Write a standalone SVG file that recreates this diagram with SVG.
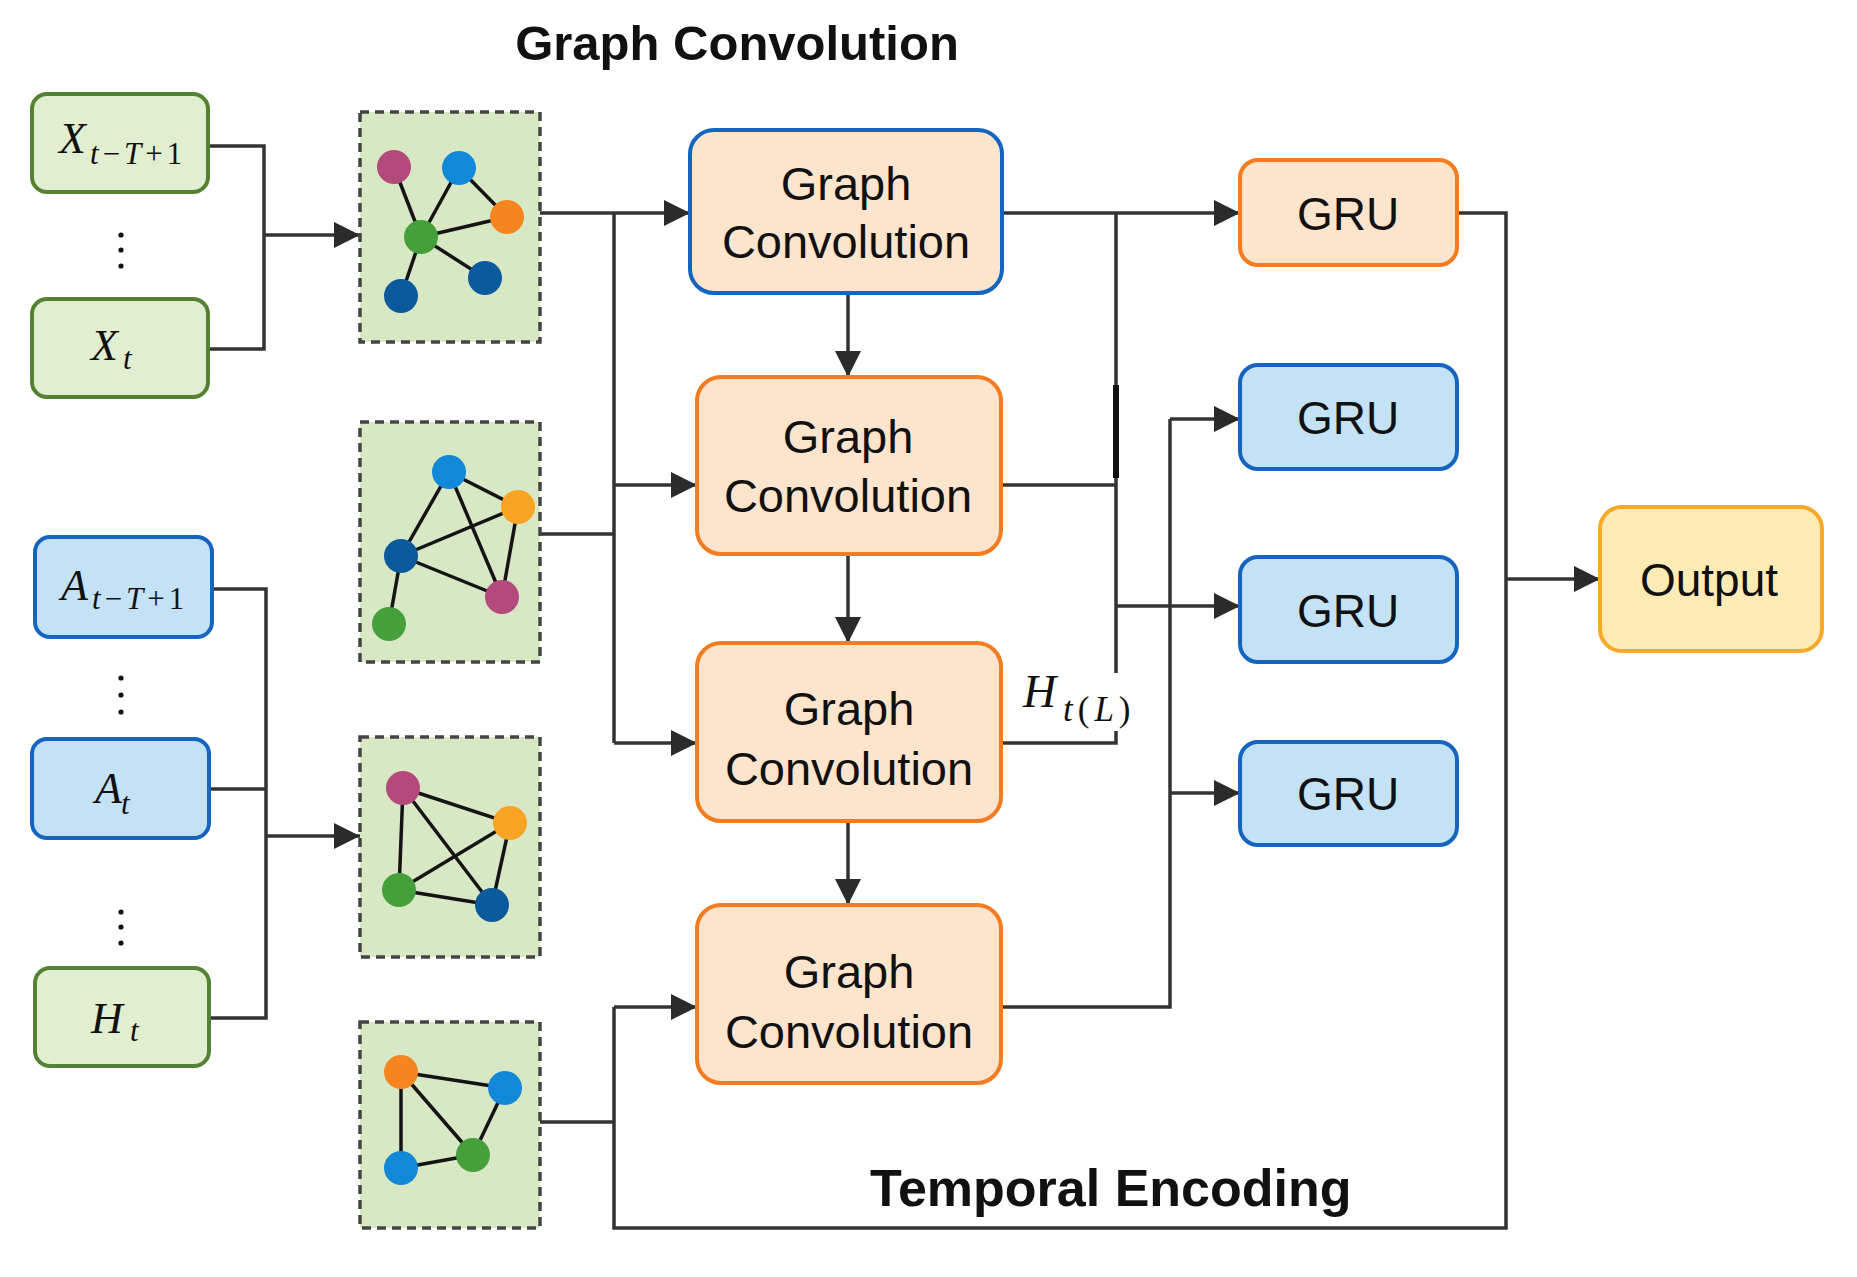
<svg xmlns="http://www.w3.org/2000/svg" width="1857" height="1277" viewBox="0 0 1857 1277">
<defs>
<marker id="arr" markerUnits="userSpaceOnUse" markerWidth="32" markerHeight="26" viewBox="0 0 10 10" refX="10" refY="5" orient="auto">
<path d="M0,0 L10,5 L0,10 z" fill="#2b2b2b"/>
</marker>
<style>
.ln{fill:none;stroke:#333;stroke-width:3.5}
.thick{fill:none;stroke:#111;stroke-width:6}
.green{fill:#e1eecf;stroke:#548235;stroke-width:4}
.blue{fill:#c4e2f6;stroke:#1565c0;stroke-width:4}
.peach{fill:#fde4cd;stroke:#f47c20;stroke-width:4}
.peachb{fill:#fde4cd;stroke:#1565c0;stroke-width:4}
.out{fill:#fdebb6;stroke:#f7a928;stroke-width:4}
.gbox{fill:#d8e8c5;stroke:#444;stroke-width:3.5;stroke-dasharray:9 6}
.ed{stroke:#141414;stroke-width:3.5}
.sans{font-family:"Liberation Sans",Arial,sans-serif;fill:#111}
.bold{font-family:"Liberation Sans",Arial,sans-serif;font-weight:bold;fill:#111}
.math{font-family:"Liberation Serif","Times New Roman",serif;font-style:italic;fill:#111}
.up{font-style:normal}
.mag{fill:#b4497b}.lb{fill:#1188d8}.or{fill:#f5861f}.or2{fill:#f9a424}.gr{fill:#45a03b}.db{fill:#0c5a9e}
.dot{fill:#111}
</style>
</defs>
<rect width="1857" height="1277" fill="#ffffff"/>

<text class="bold" x="737" y="60" font-size="49" text-anchor="middle">Graph Convolution</text>
<text class="bold" x="870" y="1206" font-size="52">Temporal Encoding</text>

<g id="connectors">
<path class="ln" d="M208,146 H264 V349 H208"/>
<path class="ln" d="M264,235 H360" marker-end="url(#arr)"/>
<path class="ln" d="M212,589 H266 V1018 H209 M209,789 H266"/>
<path class="ln" d="M266,836 H360" marker-end="url(#arr)"/>
<path class="ln" d="M540,213 H690" marker-end="url(#arr)"/>
<path class="ln" d="M614,213 V743"/>
<path class="ln" d="M614,485 H697" marker-end="url(#arr)"/>
<path class="ln" d="M540,534 H614"/>
<path class="ln" d="M614,743 H697" marker-end="url(#arr)"/>
<path class="ln" d="M540,1122 H614"/>
<path class="ln" d="M614,1007 H697" marker-end="url(#arr)"/>
<path class="ln" d="M614,1007 V1228 H1506 V213 H1457"/>
<path class="ln" d="M848,293 V377" marker-end="url(#arr)"/>
<path class="ln" d="M848,554 V643" marker-end="url(#arr)"/>
<path class="ln" d="M848,821 V905" marker-end="url(#arr)"/>
<path class="ln" d="M1002,213 H1240" marker-end="url(#arr)"/>
<path class="ln" d="M1116,213 V673 M1116,731 V743 H1001"/>
<path class="thick" d="M1116,385 V478"/>
<path class="ln" d="M1001,485 H1116"/>
<path class="ln" d="M1116,606 H1240" marker-end="url(#arr)"/>
<path class="ln" d="M1170,419 H1240" marker-end="url(#arr)"/>
<path class="ln" d="M1170,419 V1007 H1001"/>
<path class="ln" d="M1170,793 H1240" marker-end="url(#arr)"/>
<path class="ln" d="M1506,579 H1600" marker-end="url(#arr)"/>
</g>

<g id="label-H">
<text class="math" x="1023" y="707" font-size="46">H</text>
<text class="math" x="1063" y="721" font-size="35" letter-spacing="5">t<tspan class="up">(</tspan>L<tspan class="up">)</tspan></text>
</g>

<g id="x-first">
<rect class="green" x="32" y="94" width="176" height="98" rx="15"/>
<text class="math" x="59" y="153" font-size="44">X</text>
<text class="math" x="90" y="164" font-size="31" letter-spacing="4">t<tspan class="up">−</tspan>T<tspan class="up">+1</tspan></text>
</g>
<g id="x-dots"><circle class="dot" cx="121" cy="235" r="2.6"/><circle class="dot" cx="121" cy="250" r="2.6"/><circle class="dot" cx="121" cy="266" r="2.6"/></g>
<g id="x-last">
<rect class="green" x="32" y="299" width="176" height="98" rx="15"/>
<text class="math" x="91" y="360" font-size="44">X</text>
<text class="math" x="123" y="369" font-size="31">t</text>
</g>

<g id="a-first">
<rect class="blue" x="35" y="537" width="177" height="100" rx="15"/>
<text class="math" x="61" y="600" font-size="44">A</text>
<text class="math" x="92" y="609" font-size="31" letter-spacing="4">t<tspan class="up">−</tspan>T<tspan class="up">+1</tspan></text>
</g>
<g id="a-dots"><circle class="dot" cx="121" cy="678" r="2.6"/><circle class="dot" cx="121" cy="695" r="2.6"/><circle class="dot" cx="121" cy="712" r="2.6"/></g>
<g id="a-last">
<rect class="blue" x="32" y="739" width="177" height="99" rx="15"/>
<text class="math" x="95" y="803" font-size="44">A</text>
<text class="math" x="121" y="814" font-size="31">t</text>
</g>
<g id="h-dots"><circle class="dot" cx="121" cy="912" r="2.6"/><circle class="dot" cx="121" cy="927" r="2.6"/><circle class="dot" cx="121" cy="943" r="2.6"/></g>
<g id="h-last">
<rect class="green" x="35" y="968" width="174" height="98" rx="15"/>
<text class="math" x="91" y="1033" font-size="44">H</text>
<text class="math" x="130" y="1041" font-size="31">t</text>
</g>

<g id="graph1">
<rect class="gbox" x="360" y="112" width="180" height="230"/>
<line class="ed" x1="394" y1="167" x2="421" y2="237"/>
<line class="ed" x1="459" y1="168" x2="421" y2="237"/>
<line class="ed" x1="459" y1="168" x2="507" y2="217"/>
<line class="ed" x1="507" y1="217" x2="421" y2="237"/>
<line class="ed" x1="421" y1="237" x2="401" y2="296"/>
<line class="ed" x1="421" y1="237" x2="485" y2="278"/>
<circle class="mag" cx="394" cy="167" r="17"/>
<circle class="lb" cx="459" cy="168" r="17"/>
<circle class="or" cx="507" cy="217" r="17"/>
<circle class="gr" cx="421" cy="237" r="17"/>
<circle class="db" cx="401" cy="296" r="17"/>
<circle class="db" cx="485" cy="278" r="17"/>
</g>

<g id="graph2">
<rect class="gbox" x="360" y="422" width="180" height="240"/>
<line class="ed" x1="449" y1="472" x2="401" y2="556"/>
<line class="ed" x1="449" y1="472" x2="518" y2="507"/>
<line class="ed" x1="449" y1="472" x2="502" y2="597"/>
<line class="ed" x1="518" y1="507" x2="401" y2="556"/>
<line class="ed" x1="518" y1="507" x2="502" y2="597"/>
<line class="ed" x1="401" y1="556" x2="502" y2="597"/>
<line class="ed" x1="401" y1="556" x2="389" y2="624"/>
<circle class="lb" cx="449" cy="472" r="17"/>
<circle class="or2" cx="518" cy="507" r="17"/>
<circle class="db" cx="401" cy="556" r="17"/>
<circle class="mag" cx="502" cy="597" r="17"/>
<circle class="gr" cx="389" cy="624" r="17"/>
</g>

<g id="graph3">
<rect class="gbox" x="360" y="737" width="180" height="220"/>
<line class="ed" x1="403" y1="788" x2="510" y2="823"/>
<line class="ed" x1="403" y1="788" x2="399" y2="890"/>
<line class="ed" x1="403" y1="788" x2="492" y2="905"/>
<line class="ed" x1="510" y1="823" x2="399" y2="890"/>
<line class="ed" x1="510" y1="823" x2="492" y2="905"/>
<line class="ed" x1="399" y1="890" x2="492" y2="905"/>
<circle class="mag" cx="403" cy="788" r="17"/>
<circle class="or2" cx="510" cy="823" r="17"/>
<circle class="gr" cx="399" cy="890" r="17"/>
<circle class="db" cx="492" cy="905" r="17"/>
</g>

<g id="graph4">
<rect class="gbox" x="360" y="1022" width="180" height="206"/>
<line class="ed" x1="401" y1="1072" x2="505" y2="1088"/>
<line class="ed" x1="401" y1="1072" x2="401" y2="1168"/>
<line class="ed" x1="401" y1="1072" x2="473" y2="1155"/>
<line class="ed" x1="505" y1="1088" x2="473" y2="1155"/>
<line class="ed" x1="401" y1="1168" x2="473" y2="1155"/>
<circle class="or" cx="401" cy="1072" r="17"/>
<circle class="lb" cx="505" cy="1088" r="17"/>
<circle class="lb" cx="401" cy="1168" r="17"/>
<circle class="gr" cx="473" cy="1155" r="17"/>
</g>

<g id="gc1">
<rect class="peachb" x="690" y="130" width="312" height="163" rx="24"/>
<text class="sans" x="846" y="200" font-size="47" text-anchor="middle">Graph</text>
<text class="sans" x="846" y="258" font-size="47" text-anchor="middle">Convolution</text>
</g>
<g id="gc2">
<rect class="peach" x="697" y="377" width="304" height="177" rx="24"/>
<text class="sans" x="848" y="453" font-size="47" text-anchor="middle">Graph</text>
<text class="sans" x="848" y="512" font-size="47" text-anchor="middle">Convolution</text>
</g>
<g id="gc3">
<rect class="peach" x="697" y="643" width="304" height="178" rx="24"/>
<text class="sans" x="849" y="725" font-size="47" text-anchor="middle">Graph</text>
<text class="sans" x="849" y="785" font-size="47" text-anchor="middle">Convolution</text>
</g>
<g id="gc4">
<rect class="peach" x="697" y="905" width="304" height="178" rx="24"/>
<text class="sans" x="849" y="988" font-size="47" text-anchor="middle">Graph</text>
<text class="sans" x="849" y="1048" font-size="47" text-anchor="middle">Convolution</text>
</g>

<g id="gru1">
<rect class="peach" x="1240" y="160" width="217" height="105" rx="18"/>
<text class="sans" x="1348" y="230" font-size="46" text-anchor="middle">GRU</text>
</g>
<g id="gru2">
<rect class="blue" x="1240" y="365" width="217" height="104" rx="18"/>
<text class="sans" x="1348" y="434" font-size="46" text-anchor="middle">GRU</text>
</g>
<g id="gru3">
<rect class="blue" x="1240" y="557" width="217" height="105" rx="18"/>
<text class="sans" x="1348" y="627" font-size="46" text-anchor="middle">GRU</text>
</g>
<g id="gru4">
<rect class="blue" x="1240" y="742" width="217" height="103" rx="18"/>
<text class="sans" x="1348" y="810" font-size="46" text-anchor="middle">GRU</text>
</g>

<g id="output">
<rect class="out" x="1600" y="507" width="222" height="144" rx="22"/>
<text class="sans" x="1709" y="596" font-size="46" text-anchor="middle">Output</text>
</g>
</svg>
